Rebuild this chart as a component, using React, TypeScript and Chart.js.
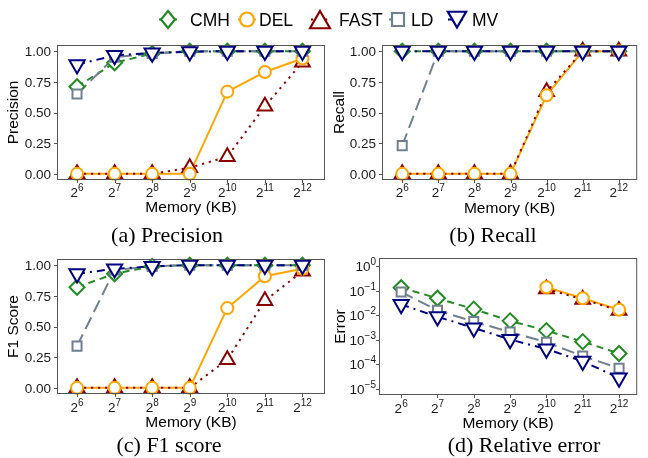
import React, { useEffect, useRef } from 'react';
import { Chart, registerables } from 'chart.js';
Chart.register(...registerables);

const W = 648;
const H = 458;
const SANS = '"Liberation Sans", Arial, Helvetica, sans-serif';
const SERIF = '"Liberation Serif", "Times New Roman", Times, serif';
const BORDER = '#555555';
const TEXT = '#1a1a1a';

// ---------- data ----------
const memoryExponents = [6, 7, 8, 9, 10, 11, 12];
const memoryBase = '2';
const seriesNames = ['CMH', 'DEL', 'FAST', 'LD', 'MV'];

const precisionCMH = [0.71, 0.905, 0.98, 1, 1, 1, 1];
const precisionDEL = [0, 0, 0, 0, 0.67, 0.83, 0.94];
const precisionFAST = [0, 0, 0, 0.05, 0.14, 0.55, 0.91];
const precisionLD = [0.65, 0.95, 0.98, 1, 1, 1, 1];
const precisionMV = [0.89, 0.965, 0.985, 0.995, 1, 1, 1];

const recallCMH = [1, 1, 1, 1, 1, 1, 1];
const recallDEL = [0, 0, 0, 0, 0.64, 1, 1];
const recallFAST = [0, 0, 0, 0, 0.67, 1, 1];
const recallLD = [0.23, 1, 1, 1, 1, 1, 1];
const recallMV = [1, 1, 1, 1, 1, 1, 1];

const f1CMH = [0.82, 0.93, 0.99, 1, 1, 1, 1];
const f1DEL = [0, 0, 0, 0, 0.65, 0.91, 0.97];
const f1FAST = [0, 0, 0, 0, 0.23, 0.71, 0.95];
const f1LD = [0.34, 0.96, 0.99, 1, 1, 1, 1];
const f1MV = [0.93, 0.97, 0.99, 1, 1, 1, 1];

const errorCMH = [0.135, 0.05, 0.018, 0.006, 0.0024, 0.00085, 0.00028];
const errorDEL = [null, null, null, null, 0.14, 0.05, 0.017];
const errorFAST = [null, null, null, null, 0.12, 0.045, 0.016];
const errorLD = [0.09, 0.016, 0.0056, 0.0021, 0.0008, 0.00022, 0.00007];
const errorMV = [0.028, 0.0088, 0.0031, 0.00104, 0.00043, 0.000135, 0.000028];

const unitTicks = [0, 0.25, 0.5, 0.75, 1];
const unitTickLabels = ['0.00', '0.25', '0.50', '0.75', '1.00'];
const errorTickExponents = [0, -1, -2, -3, -4, -5];
const errorTickBase = '10';

// ---------- styles ----------
const styles: Record<string, any> = {
  CMH: { color: '#228B22', dash: [7, 5], shape: 'rectRot', radius: 7.5, rotation: 0, lineOrder: 14, pointOrder: 4 },
  DEL: { color: '#FFA500', dash: [], shape: 'circle', radius: 6, rotation: 0, lineOrder: 13, pointOrder: 2 },
  FAST: { color: '#8B0000', dash: [2.2, 4.8], shape: 'triangle', radius: 8.5, rotation: 0, lineOrder: 12, pointOrder: 3 },
  LD: { color: '#708090', dash: [13, 6], shape: 'rect', radius: 6.4, rotation: 0, lineOrder: 11, pointOrder: 1 },
  MV: { color: '#000080', dash: [8, 5, 2, 5], shape: 'triangle', radius: 8.8, rotation: 180, lineOrder: 10, pointOrder: 0 },
};

const panels = [
  {
    id: 'a', log: false, yTitle: 'Precision', caption: '(a) Precision',
    series: { CMH: precisionCMH, DEL: precisionDEL, FAST: precisionFAST, LD: precisionLD, MV: precisionMV },
    area: { left: 57, top: 45, right: 325, bottom: 180 }, xMin: 5.467, xMax: 12.6,
    yTitleX: 14, captionX: 167, captionY: 242, xTitleY: 212, xTickY: 197, yLabelGap: 6,
  },
  {
    id: 'b', log: false, yTitle: 'Recall', caption: '(b) Recall',
    series: { CMH: recallCMH, DEL: recallDEL, FAST: recallFAST, LD: recallLD, MV: recallMV },
    area: { left: 382, top: 45, right: 647, bottom: 180 }, xMin: 5.44, xMax: 12.51,
    yTitleX: 340, captionX: 493, captionY: 242, xTitleY: 213, xTickY: 197, yLabelGap: 6,
  },
  {
    id: 'c', log: false, yTitle: 'F1 Score', caption: '(c) F1 score',
    series: { CMH: f1CMH, DEL: f1DEL, FAST: f1FAST, LD: f1LD, MV: f1MV },
    area: { left: 57, top: 259, right: 325, bottom: 394 }, xMin: 5.467, xMax: 12.6,
    yTitleX: 14, captionX: 169, captionY: 452, xTitleY: 427, xTickY: 412, yLabelGap: 6,
  },
  {
    id: 'd', log: true, yTitle: 'Error', caption: '(d) Relative error',
    series: { CMH: errorCMH, DEL: errorDEL, FAST: errorFAST, LD: errorLD, MV: errorMV },
    area: { left: 379, top: 258, right: 647, bottom: 395 }, xMin: 5.39, xMax: 12.5,
    yTitleX: 341, captionX: 524, captionY: 452, xTitleY: 428, xTickY: 413, yLabelGap: 3,
  },
];

const legendItems = [
  { name: 'CMH', shape: 'diamond', cx: 168, tx: 190 },
  { name: 'DEL', shape: 'circle', cx: 247, tx: 259 },
  { name: 'FAST', shape: 'triangle', cx: 320, tx: 339 },
  { name: 'LD', shape: 'square', cx: 398, tx: 411 },
  { name: 'MV', shape: 'triangleDown', cx: 457, tx: 472 },
];

// ---------- helpers ----------
function drawSup(ctx: CanvasRenderingContext2D, base: string, sup: string, x: number, baseline: number, align: 'center' | 'right') {
  ctx.font = `13.5px ${SANS}`;
  const wb = ctx.measureText(base).width;
  ctx.font = `10px ${SANS}`;
  const ws = ctx.measureText(sup).width;
  const total = wb + ws;
  const x0 = align === 'center' ? x - total / 2 : x - total;
  ctx.textAlign = 'left';
  ctx.textBaseline = 'alphabetic';
  ctx.font = `13.5px ${SANS}`;
  ctx.fillText(base, x0, baseline);
  ctx.font = `10px ${SANS}`;
  ctx.fillText(sup, x0 + wb, baseline - 6);
}

function legendShape(ctx: CanvasRenderingContext2D, shape: string, x: number, y: number) {
  ctx.beginPath();
  if (shape === 'diamond') {
    ctx.moveTo(x, y - 8.5); ctx.lineTo(x + 7, y); ctx.lineTo(x, y + 8.5); ctx.lineTo(x - 7, y); ctx.closePath();
  } else if (shape === 'circle') {
    ctx.arc(x, y, 7, 0, Math.PI * 2);
  } else if (shape === 'triangle') {
    const r = 11.5; const cy = y + 3;
    ctx.moveTo(x, cy - r); ctx.lineTo(x + r * 0.866, cy + r / 2); ctx.lineTo(x - r * 0.866, cy + r / 2); ctx.closePath();
  } else if (shape === 'square') {
    ctx.rect(x - 6, y - 6.5, 12, 13);
  } else if (shape === 'triangleDown') {
    const r = 10.5; const cy = y - 2.5;
    ctx.moveTo(x, cy + r); ctx.lineTo(x + r * 0.866, cy - r / 2); ctx.lineTo(x - r * 0.866, cy - r / 2); ctx.closePath();
  }
  ctx.fillStyle = '#ffffff';
  ctx.fill();
  ctx.stroke();
}

function makeDecor(p: any, withLegend: boolean) {
  return {
    id: 'decor' + p.id,
    afterDraw(chart: any) {
      const ctx: CanvasRenderingContext2D = chart.ctx;
      const xs = chart.scales.x;
      const ys = chart.scales.y;
      const { left, right, top, bottom } = chart.chartArea;
      ctx.save();
      // panel border
      ctx.strokeStyle = BORDER;
      ctx.lineWidth = 1;
      ctx.strokeRect(left + 0.5, top + 0.5, right - left - 1, bottom - top - 1);
      // x ticks
      ctx.fillStyle = TEXT;
      ctx.beginPath();
      memoryExponents.forEach((e) => {
        const px = Math.round(xs.getPixelForValue(e)) + 0.5;
        ctx.moveTo(px, bottom); ctx.lineTo(px, bottom + 3);
      });
      // y ticks
      const yVals = p.log ? errorTickExponents.map((e) => Math.pow(10, e)) : unitTicks;
      yVals.forEach((v: number) => {
        const py = Math.round(ys.getPixelForValue(v)) + 0.5;
        ctx.moveTo(left - 3, py); ctx.lineTo(left, py);
      });
      ctx.stroke();
      memoryExponents.forEach((e) => {
        drawSup(ctx, memoryBase, String(e), xs.getPixelForValue(e), p.xTickY, 'center');
      });
      if (p.log) {
        errorTickExponents.forEach((e) => {
          const py = ys.getPixelForValue(Math.pow(10, e));
          drawSup(ctx, errorTickBase, e < 0 ? '\u2212' + String(-e) : String(e), left - p.yLabelGap, py + 5, 'right');
        });
      } else {
        ctx.font = `13.5px ${SANS}`;
        ctx.textAlign = 'right';
        ctx.textBaseline = 'middle';
        unitTicks.forEach((v, i) => {
          ctx.fillText(unitTickLabels[i], left - p.yLabelGap, ys.getPixelForValue(v) + 1);
        });
      }
      // axis titles
      ctx.fillStyle = '#000';
      ctx.font = `15.5px ${SANS}`;
      ctx.textAlign = 'center';
      ctx.textBaseline = 'alphabetic';
      ctx.fillText('Memory (KB)', (left + right) / 2, p.xTitleY);
      ctx.save();
      ctx.translate(p.yTitleX, (top + bottom) / 2);
      ctx.rotate(-Math.PI / 2);
      ctx.textBaseline = 'middle';
      ctx.fillText(p.yTitle, 0, 0);
      ctx.restore();
      // caption
      ctx.font = `22px ${SERIF}`;
      ctx.textAlign = 'center';
      ctx.textBaseline = 'alphabetic';
      ctx.fillText(p.caption, p.captionX, p.captionY);
      // legend
      if (withLegend) {
        legendItems.forEach((it) => {
          const st = styles[it.name];
          ctx.strokeStyle = st.color;
          ctx.lineWidth = 2;
          ctx.setLineDash(st.dash);
          ctx.beginPath();
          ctx.moveTo(it.cx - 9, 19.5); ctx.lineTo(it.cx + 9, 19.5);
          ctx.stroke();
          ctx.setLineDash([]);
          ctx.lineWidth = 2.2;
          legendShape(ctx, it.shape, it.cx, 19.5);
          ctx.fillStyle = '#000';
          ctx.font = `17.5px ${SANS}`;
          ctx.textAlign = 'left';
          ctx.textBaseline = 'alphabetic';
          ctx.fillText(it.name, it.tx, 26);
        });
      }
      ctx.restore();
    },
  };
}

function buildConfig(p: any, withLegend: boolean): any {
  const datasets: any[] = [];
  seriesNames.forEach((name) => {
    const st = styles[name];
    const values: (number | null)[] = p.series[name];
    const pts = memoryExponents.map((e, i) => ({ x: e, y: values[i] }));
    datasets.push({
      label: name + ' line', data: pts, borderColor: st.color, borderWidth: 2, borderDash: st.dash,
      pointRadius: 0, fill: false, tension: 0, spanGaps: false, order: st.lineOrder, clip: false,
    });
    datasets.push({
      label: name, data: pts, showLine: false, pointStyle: st.shape, pointRadius: st.radius,
      pointRotation: st.rotation, pointBorderColor: st.color, pointBackgroundColor: '#ffffff',
      pointBorderWidth: 2, borderColor: st.color, order: st.pointOrder, clip: false,
    });
  });
  return {
    type: 'line',
    data: { datasets },
    options: {
      responsive: false,
      animation: false,
      events: [],
      devicePixelRatio: 1,
      layout: { padding: { left: p.area.left, top: p.area.top, right: W - p.area.right, bottom: H - p.area.bottom } },
      plugins: { legend: { display: false }, tooltip: { enabled: false } },
      scales: {
        x: { type: 'linear', display: false, min: p.xMin, max: p.xMax },
        y: p.log
          ? { type: 'logarithmic', display: false, min: Math.pow(10, -5.245), max: Math.pow(10, 0.34) }
          : { type: 'linear', display: false, min: -0.05, max: 1.05 },
      },
    },
    plugins: [makeDecor(p, withLegend)],
  };
}

function Panel({ p, withLegend }: { p: any; withLegend: boolean }) {
  const ref = useRef<HTMLCanvasElement | null>(null);
  useEffect(() => {
    if (!ref.current) return;
    const chart = new Chart(ref.current, buildConfig(p, withLegend));
    return () => chart.destroy();
  }, [p, withLegend]);
  return (
    <canvas
      ref={ref}
      width={W}
      height={H}
      style={{ position: 'absolute', left: 0, top: 0, width: W, height: H }}
    />
  );
}

export default function App() {
  return (
    <div style={{ position: 'absolute', left: 0, top: 0, width: W, height: H, background: '#ffffff', overflow: 'hidden' }}>
      {panels.map((p, i) => (
        <Panel key={p.id} p={p} withLegend={i === 0} />
      ))}
    </div>
  );
}
